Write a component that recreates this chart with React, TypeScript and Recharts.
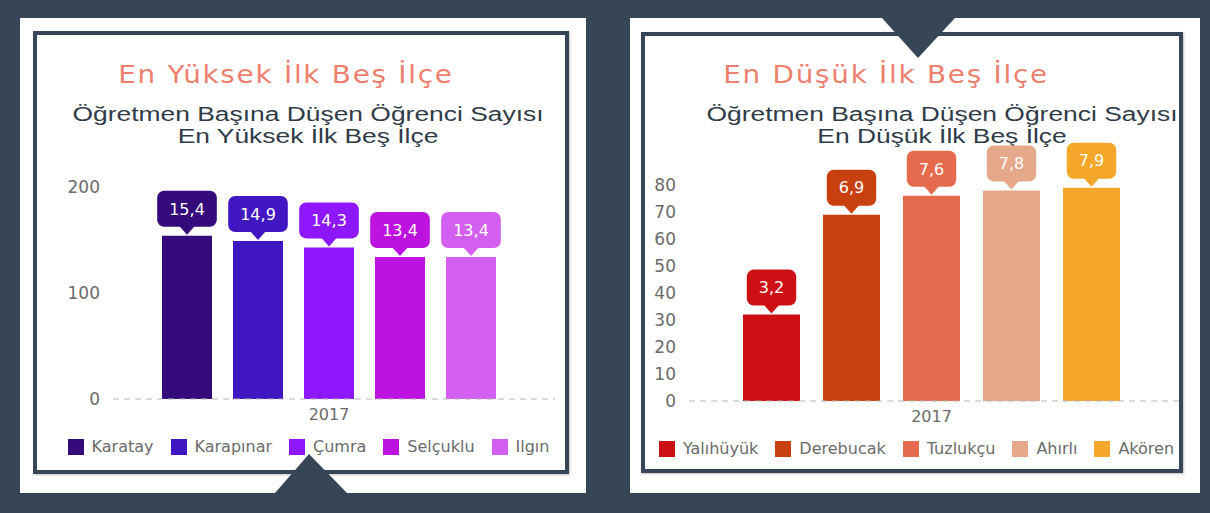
import React from 'react';
import { BarChart, Bar, XAxis, YAxis, Legend } from 'recharts';

const BG = '#364656';

const YEARS = ['2017'];

const HIGH_NAMES = ['Karatay', 'Karapınar', 'Çumra', 'Selçuklu', 'Ilgın'];
const HIGH_VALUES = [154, 149, 143, 134, 134];
const HIGH_LABELS = ['15,4', '14,9', '14,3', '13,4', '13,4'];
const HIGH_COLORS = ['#350a7a', '#4117c2', '#8e17fd', '#bd12e0', '#d35ff0'];
const HIGH_TICKS = [0, 100, 200];

const LOW_NAMES = ['Yalıhüyük', 'Derebucak', 'Tuzlukçu', 'Ahırlı', 'Akören'];
const LOW_VALUES = [32, 69, 76, 78, 79];
const LOW_LABELS = ['3,2', '6,9', '7,6', '7,8', '7,9'];
const LOW_COLORS = ['#cd1013', '#c9400f', '#e66b4e', '#e5a88a', '#f4a72a'];
const LOW_TICKS = [0, 10, 20, 30, 40, 50, 60, 70, 80];

const FONT = '"DejaVu Sans", sans-serif';

const buildRows = (values: number[]) =>
  YEARS.map((year) => {
    const row: Record<string, any> = { year };
    values.forEach((v, i) => (row[`s${i}`] = v));
    return row;
  });

// rough glyph widths for DejaVu Sans, used to size the callout boxes
const textWidth = (s: string, size: number) =>
  s.split('').reduce((w, ch) => w + (ch === ',' ? 0.318 : 0.636), 0) * size;

const Callout = (props: any) => {
  const { x, y, width, text, color } = props;
  const cx = Number(x) + Number(width) / 2;
  const w = textWidth(text, 16) + 24;
  const h = 36;
  const bottom = Number(y) - 9;
  return (
    <g>
      <rect x={cx - w / 2} y={bottom - h} width={w} height={h} rx={7} ry={7} fill={color} />
      <path d={`M${cx - 8},${bottom - 1} L${cx + 8},${bottom - 1} L${cx},${bottom + 8} Z`} fill={color} />
      <text x={cx} y={bottom - h / 2} dy="0.36em" textAnchor="middle" fill="#fff" fontSize={16} fontFamily={FONT}>
        {text}
      </text>
    </g>
  );
};

const LegendRow = ({ names, colors }: { names: string[]; colors: string[] }) => (
  <div style={{ display: 'flex', justifyContent: 'center', height: 20, alignItems: 'center', fontFamily: FONT, fontSize: 16, color: '#6b6b6b' }}>
    {names.map((n, i) => (
      <div key={n} style={{ display: 'flex', alignItems: 'center', marginLeft: i === 0 ? 0 : 17 }}>
        <span style={{ width: 16, height: 16, background: colors[i], marginRight: 8, display: 'inline-block' }} />
        <span style={{ lineHeight: '20px' }}>{n}</span>
      </div>
    ))}
  </div>
);

type PanelChartProps = {
  names: string[];
  values: number[];
  labels: string[];
  colors: string[];
  ticks: number[];
  width: number;
  margin: { top: number; right: number; bottom: number; left: number };
  yWidth: number;
  barSize: number;
  barGap: number;
  padRight: number;
  legendShift: number;
};

const PanelChart = (p: PanelChartProps) => (
  <BarChart width={p.width} height={330} data={buildRows(p.values)} margin={p.margin} barGap={p.barGap}>
    <XAxis
      dataKey="year"
      axisLine={{ stroke: '#b4b4b4', strokeDasharray: '6 5' }}
      tickLine={false}
      tickMargin={4}
      height={38}
      padding={{ left: 0, right: p.padRight }}
      tick={{ fill: '#6b6b6b', fontSize: 16, fontFamily: FONT }}
    />
    <YAxis
      width={p.yWidth}
      domain={[0, p.ticks[p.ticks.length - 1]]}
      ticks={p.ticks}
      interval={0}
      axisLine={false}
      tickLine={false}
      tickMargin={7}
      tick={{ fill: '#6b6b6b', fontSize: 17, fontFamily: FONT }}
    />
    <Legend
      verticalAlign="bottom"
      height={20}
      wrapperStyle={{ left: p.legendShift }}
      content={() => <LegendRow names={p.names} colors={p.colors} />}
    />
    {p.names.map((n, i) => (
      <Bar
        key={n}
        dataKey={`s${i}`}
        name={n}
        fill={p.colors[i]}
        barSize={p.barSize}
        isAnimationActive={false}
        label={(lp: any) => <Callout {...lp} text={p.labels[i]} color={p.colors[i]} />}
      />
    ))}
  </BarChart>
);

const titleStyle = (center: number): React.CSSProperties => ({
  position: 'absolute',
  left: center - 250,
  width: 500,
  top: 60,
  textAlign: 'center',
  fontFamily: FONT,
  fontSize: 24,
  lineHeight: '30px',
  letterSpacing: 1.5,
  color: '#ec7f6d',
  transform: 'scaleX(1.16)',
  transformOrigin: 'center',
  whiteSpace: 'nowrap',
});

const subStyle = (center: number): React.CSSProperties => ({
  position: 'absolute',
  left: center - 250,
  width: 500,
  top: 103,
  textAlign: 'center',
  fontFamily: '"Liberation Sans", Arial, sans-serif',
  fontSize: 20,
  lineHeight: '22px',
  color: '#2f3b48',
  transform: 'scaleX(1.32)',
  transformOrigin: 'center',
  whiteSpace: 'nowrap',
});

const abs = (left: number, top: number, width: number, height: number, extra: React.CSSProperties = {}): React.CSSProperties => ({
  position: 'absolute',
  left,
  top,
  width,
  height,
  boxSizing: 'border-box',
  ...extra,
});

export default function App() {
  return (
    <div style={abs(0, 0, 1210, 513, { background: BG, overflow: 'hidden' })}>
      {/* white panels */}
      <div style={abs(20, 18, 566, 475, { background: '#fff' })} />
      <div style={abs(630, 18, 570, 475, { background: '#fff' })} />
      {/* framed boxes */}
      <div style={abs(33, 31, 536, 443, { border: `4px solid ${BG}`, boxShadow: '1px 1px 2px rgba(0,0,0,0.25)' })} />
      <div style={abs(641, 32, 542, 441, { border: `4px solid ${BG}`, boxShadow: '1px 1px 2px rgba(0,0,0,0.25)' })} />

      <div style={titleStyle(286)}>En Yüksek İlk Beş İlçe</div>
      <div style={titleStyle(886)}>En Düşük İlk Beş İlçe</div>

      <div style={subStyle(308)}>
        Öğretmen Başına Düşen Öğrenci Sayısı
        <br />
        En Yüksek İlk Beş İlçe
      </div>
      <div style={subStyle(942)}>
        Öğretmen Başına Düşen Öğrenci Sayısı
        <br />
        En Düşük İlk Beş İlçe
      </div>

      <div style={abs(35, 140, 535, 330)}>
        <PanelChart
          names={HIGH_NAMES}
          values={HIGH_VALUES}
          labels={HIGH_LABELS}
          colors={HIGH_COLORS}
          ticks={HIGH_TICKS}
          width={535}
          margin={{ top: 47, right: 15, bottom: 13, left: 0 }}
          yWidth={78}
          barSize={50}
          barGap={21}
          padRight={10}
          legendShift={13.5}
        />
      </div>
      <div style={abs(643, 140, 540, 330)}>
        <PanelChart
          names={LOW_NAMES}
          values={LOW_VALUES}
          labels={LOW_LABELS}
          colors={LOW_COLORS}
          ticks={LOW_TICKS}
          width={540}
          margin={{ top: 45, right: 0, bottom: 11, left: 0 }}
          yWidth={46}
          barSize={57}
          barGap={23}
          padRight={9}
          legendShift={3.5}
        />
      </div>

      {/* notch triangles */}
      <svg width={1210} height={513} style={{ position: 'absolute', left: 0, top: 0, pointerEvents: 'none' }}>
        <polygon points="882,18 955,18 918,58" fill={BG} />
        <polygon points="275,493 347,493 309,454" fill={BG} />
      </svg>
    </div>
  );
}
